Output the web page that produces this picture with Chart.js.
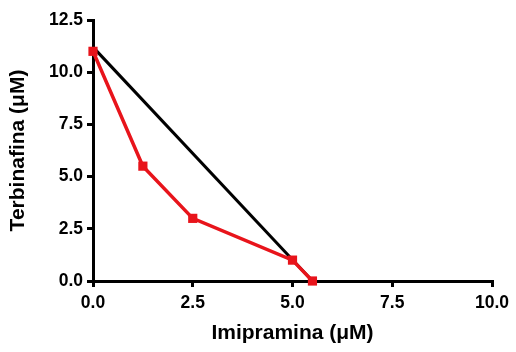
<!DOCTYPE html>
<html>
<head>
<meta charset="utf-8">
<script src="https://cdn.jsdelivr.net/npm/chart.js@4/dist/chart.umd.min.js"></script>
<style>
  html, body { margin: 0; padding: 0; background: #fff; }
  #wrap { width: 516px; height: 352px; }
</style>
</head>
<body>
<div id="wrap"><canvas id="c" width="516" height="352"></canvas></div>
<script>
// Isobologram: observed combination (red) vs. line of additivity (black)
const combImipramina = [0, 1.25, 2.5, 5.0, 5.5];
const combTerbinafina = [11.0, 5.5, 3.0, 1.0, 0.0];
const addImipramina = [0, 5.5];
const addTerbinafina = [11.2, 0.0];
const xTicks = [0, 2.5, 5.0, 7.5, 10.0];
const yTicks = [0, 2.5, 5.0, 7.5, 10.0, 12.5];

const toPoints = (xs, ys) => xs.map((x, i) => ({ x: x, y: ys[i] }));

const tickFont = { family: '"Liberation Sans", Arial, sans-serif', size: 17.5, weight: 'bold' };
const titleFont = { family: '"Liberation Sans", Arial, sans-serif', size: 21, weight: 'bold' };

new Chart(document.getElementById('c'), {
  type: 'scatter',
  data: {
    datasets: [
      {
        data: toPoints(combImipramina, combTerbinafina),
        showLine: true,
        borderColor: '#e8141b',
        backgroundColor: '#e8141b',
        borderWidth: 3.5,
        pointStyle: 'rect',
        pointRadius: 6.5,
        pointBorderWidth: 0,
        clip: false
      },
      {
        data: toPoints(addImipramina, addTerbinafina),
        showLine: true,
        borderColor: '#000',
        backgroundColor: '#000',
        borderWidth: 3,
        pointRadius: 0,
        clip: false
      }
    ]
  },
  options: {
    responsive: false,
    animation: false,
    devicePixelRatio: 1,
    layout: { padding: { left: 0, right: 24, top: 20, bottom: 0 } },
    plugins: { legend: { display: false }, tooltip: { enabled: false } },
    scales: {
      x: {
        type: 'linear',
        min: 0, max: 10,
        afterBuildTicks: (s) => { s.ticks = xTicks.map(v => ({ value: v })); },
        afterFit: (s) => { s.height = 71; },
        ticks: {
          color: '#000', font: tickFont, padding: 6, maxRotation: 0,
          callback: (v) => Number(v).toFixed(1)
        },
        grid: { drawOnChartArea: false, drawTicks: true, tickLength: 6, color: '#000', lineWidth: 3 },
        border: { display: true, color: '#000', width: 3 },
        title: { display: true, text: 'Imipramina (μM)', color: '#000', font: titleFont, padding: { top: 0, bottom: 6 } }
      },
      y: {
        type: 'linear',
        min: 0, max: 12.5,
        afterBuildTicks: (s) => { s.ticks = yTicks.map(v => ({ value: v })); },
        afterFit: (s) => { s.width = 93; },
        ticks: {
          color: '#000', font: tickFont, padding: 4,
          callback: (v) => Number(v).toFixed(1)
        },
        grid: { drawOnChartArea: false, drawTicks: true, tickLength: 6, color: '#000', lineWidth: 3 },
        border: { display: true, color: '#000', width: 3 },
        title: { display: true, text: 'Terbinafina (μM)', color: '#000', font: titleFont, padding: { top: 6, bottom: 0 } }
      }
    }
  }
});
</script>
</body>
</html>
